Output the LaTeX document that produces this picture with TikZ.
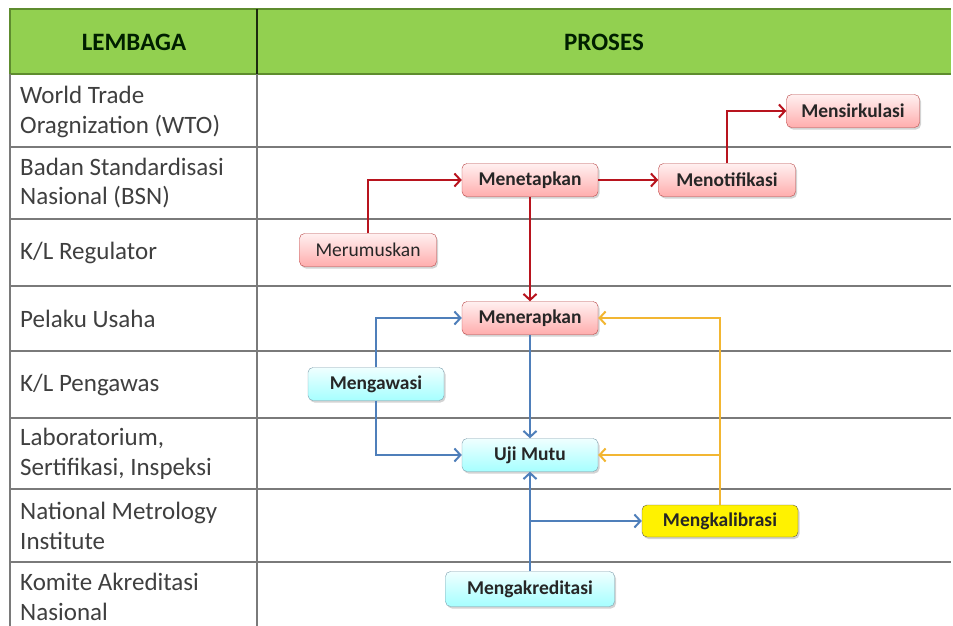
\documentclass[tikz,border=0pt]{standalone}
\usepackage{fontspec}
\setmainfont{Carlito}
\usetikzlibrary{positioning, arrows.meta, shadows}
\definecolor{headgreen}{HTML}{92D050}
\definecolor{headline}{HTML}{5E8C2E}
\definecolor{gridgray}{HTML}{7A7A7A}
\definecolor{labelgray}{HTML}{3F3F3F}
\definecolor{flowred}{HTML}{B8141E}
\definecolor{flowblue}{HTML}{4F7FBA}
\definecolor{flowgold}{HTML}{F2B632}

\begin{document}
\begin{tikzpicture}[x=1pt, y=-1pt,
		rowlabel/.style={anchor=west, align=left, text=labelgray, inner sep=0pt,
			font=\fontsize{25}{29.5}\selectfont},
		headlabel/.style={font=\fontsize{25}{28}\selectfont\bfseries, text=black!80!green!60!black},
		procbox/.style={rounded corners=5pt, minimum width=136pt, minimum height=33pt, inner sep=0pt,
			font=\fontsize{19.5}{22}\selectfont\bfseries, text=black!85,
			drop shadow={shadow xshift=1.5pt, shadow yshift=-2pt, opacity=0.35}},
		pinkbox/.style={procbox, draw=red!45!gray, top color=red!6, bottom color=red!32},
		bluebox/.style={procbox, draw=cyan!30!gray, top color=cyan!6, bottom color=cyan!35},
		yellowbox/.style={procbox, draw=black!70!yellow, fill=yellow},
		flow/.style={line width=2.4pt, -{Straight Barb[length=6pt, width=13pt, line width=2pt]}}
	]
	\useasboundingbox (0,0) rectangle (953,626);

	\fill[headgreen] (10,9) rectangle (951,74);
	\draw[headline, line width=2pt] (951,9) -- (10,9) -- (10,74) -- (951,74);

	\foreach \y in {147,219,286,351,418,489,562}
	{
		\draw[gridgray, line width=2.2pt] (10,\y) -- (951,\y);
	}
	\draw[gridgray, line width=2.2pt] (10,74) -- (10,626);
	\draw[black!70!headline, line width=2.2pt] (257,9) -- (257,74);
	\draw[gridgray, line width=2.2pt] (257,74) -- (257,626);

	\node[headlabel] (lembaga) at (134,42) {LEMBAGA};
	\node[headlabel] (proses) at (604,42) {PROSES};

	\node[rowlabel] (wto) at (20,112) {World Trade\\Oragnization (WTO)};
	\node[rowlabel] (bsn) at (20,183) {Badan Standardisasi\\Nasional (BSN)};
	\node[rowlabel] (regulator) at (20,253) {K/L Regulator};
	\node[rowlabel] (pelaku) at (20,319) {Pelaku Usaha};
	\node[rowlabel] (pengawas) at (20,385) {K/L Pengawas};
	\node[rowlabel] (lab) at (20,454) {Laboratorium,\\Sertifikasi, Inspeksi};
	\node[rowlabel] (nmi) at (20,526) {National Metrology\\Institute};
	\node[rowlabel] (kan) at (20,597) {Komite Akreditasi\\Nasional};

	\node[pinkbox, minimum width=133pt] (mensirkulasi) at (853,111) {Mensirkulasi};
	\node[pinkbox] (menetapkan) at (530,180) {Menetapkan};
	\node[pinkbox, minimum width=137pt] (menotifikasi) at (727,180) {Menotifikasi};
	\node[pinkbox, minimum width=137pt, font=\fontsize{19.5}{22}\selectfont] (merumuskan) at (368,250) {Merumuskan};
	\node[pinkbox] (menerapkan) at (530,318) {Menerapkan};
	\node[bluebox] (mengawasi) at (376,384) {Mengawasi};
	\node[bluebox] (ujimutu) at (530,455) {Uji Mutu};
	\node[yellowbox, minimum width=156pt, minimum height=32pt] (mengkalibrasi) at (720,521) {Mengkalibrasi};
	\node[bluebox, minimum width=169pt, minimum height=35pt] (mengakreditasi) at (530,589) {Mengakreditasi};

	\begin{scope}[flow, flowred]
		\draw (merumuskan.north) |- (menetapkan.west);
		\draw (menetapkan) -- (menotifikasi);
		\draw (menotifikasi.north) |- (mensirkulasi.west);
		\draw (menetapkan.south) -- (menerapkan.north);
	\end{scope}

	\begin{scope}[flow, flowblue]
		\draw (mengawasi.north) |- (menerapkan.west);
		\draw (mengawasi.south) |- (ujimutu.west);
		\draw (menerapkan.south) -- (ujimutu.north);
		\draw (mengakreditasi.north) -- (ujimutu.south);
		\draw (ujimutu.south |- mengkalibrasi.west) -- (mengkalibrasi.west);
	\end{scope}

	\begin{scope}[flow, flowgold]
		\draw (mengkalibrasi.north) |- (menerapkan.east);
		\draw (mengkalibrasi.north |- ujimutu.east) -- (ujimutu.east);
	\end{scope}
\end{tikzpicture}
\end{document}
